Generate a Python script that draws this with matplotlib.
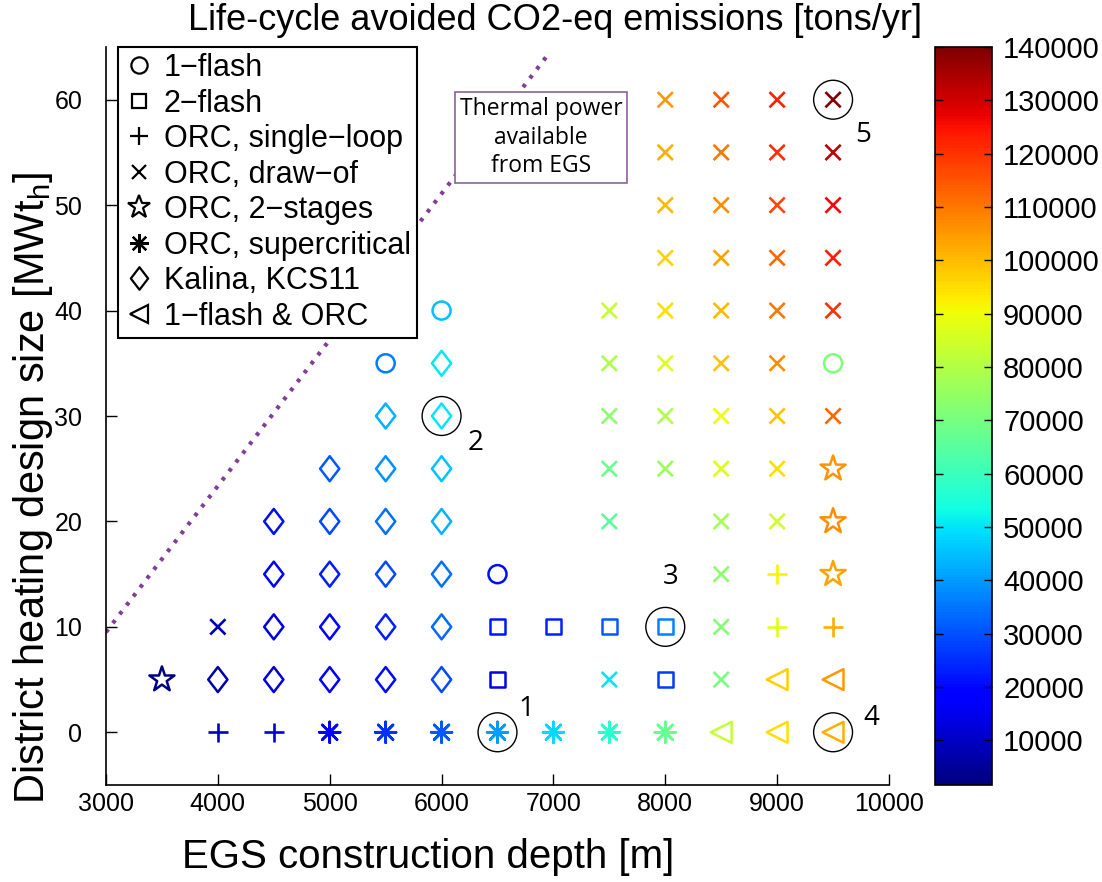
import numpy as np
import matplotlib
matplotlib.use('Agg')
import matplotlib.pyplot as plt
from matplotlib.path import Path
from matplotlib.lines import Line2D
from matplotlib.markers import MarkerStyle
from matplotlib.colors import Normalize
from matplotlib.cm import ScalarMappable

plt.rcParams['font.family'] = ['Liberation Sans', 'DejaVu Sans']
plt.rcParams['mathtext.fontset'] = 'custom'
plt.rcParams['mathtext.rm'] = 'Liberation Sans'

# --- data: depth [m], district heating size [MWth], avoided CO2 [tons/yr] ---
flash1_depth = [6500, 5500, 6000, 9500]
flash1_size = [15, 35, 40, 35]
flash1_co2 = [21000, 36000, 45000, 70800]

flash2_depth = [6500, 8000, 6500, 7000, 7500, 8000]
flash2_size = [5, 5, 10, 10, 10, 10]
flash2_co2 = [14500, 27000, 22000, 23500, 31000, 36200]

single_depth = [4000, 4500, 9000, 9500, 9000]
single_size = [0, 0, 10, 10, 15]
single_co2 = [10000, 12000, 88000, 102000, 91500]

drawof_depth = [4000, 7500, 8500, 8500, 8500,
                7500, 8500, 9000,
                7500, 8000, 8500, 9000,
                7500, 8000, 8500, 9000, 9500,
                7500, 8000, 8500, 9000,
                7500, 8000, 8500, 9000, 9500,
                8000, 8500, 9000, 9500,
                8000, 8500, 9000, 9500,
                8000, 8500, 9000, 9500,
                8000, 8500, 9000, 9500]
drawof_size = [10, 5, 5, 10, 15,
               20, 20, 20,
               25, 25, 25, 25,
               30, 30, 30, 30, 30,
               35, 35, 35, 35,
               40, 40, 40, 40, 40,
               45, 45, 45, 45,
               50, 50, 50, 50,
               55, 55, 55, 55,
               60, 60, 60, 60]
drawof_co2 = [9000, 50000, 70000, 72000, 74000,
              65000, 77700, 84600,
              68000, 76000, 86500, 95000,
              74000, 79500, 90000, 98500, 112000,
              79000, 88000, 98500, 107000,
              83000, 95000, 100000, 110000, 120000,
              96500, 103500, 112000, 123000,
              100000, 107000, 117000, 126000,
              102000, 110000, 121000, 132000,
              105000, 115000, 122700, 140000]

stage2_depth = [3500, 9500, 9500, 9500]
stage2_size = [5, 15, 20, 25]
stage2_co2 = [1600, 103700, 106800, 105400]

superc_depth = [5000, 5500, 6000, 6500, 7000, 7500, 8000]
superc_size = [0, 0, 0, 0, 0, 0, 0]
superc_co2 = [19000, 25800, 31000, 40000, 48600, 57000, 67300]

kalina_depth = [4000, 4500, 5000, 5500, 6000,
                4500, 5000, 5500, 6000,
                4500, 5000, 5500, 6000,
                4500, 5000, 5500, 6000,
                5000, 5500, 6000,
                5500, 6000,
                6000]
kalina_size = [5, 5, 5, 5, 5,
               10, 10, 10, 10,
               15, 15, 15, 15,
               20, 20, 20, 20,
               25, 25, 25,
               30, 30,
               35]
kalina_co2 = [7000, 12600, 17000, 20500, 29000,
              14000, 19000, 23000, 33000,
              18000, 23000, 29000, 34500,
              21000, 29000, 34500, 43000,
              31000, 38500, 45000,
              43000, 50000,
              50500]

hybrid_depth = [8500, 9000, 9500, 9000, 9500]
hybrid_size = [0, 0, 0, 5, 5]
hybrid_co2 = [83200, 95000, 102000, 97000, 105000]

# highlighted cases
hl_depth = [6500, 6000, 8000, 9500, 9500]
hl_size = [0, 30, 10, 0, 60]
hl_labels = ['1', '2', '3', '4', '5']
hl_label_depth = [6760, 6300, 8050, 9840, 9770]
hl_label_size = [2.2, 27.4, 14.7, 1.4, 56.7]

# thermal power limit line
thermal_depth = [3000, 6960]
thermal_size = [9.5, 64.4]

cbar_ticks = [10000, 20000, 30000, 40000, 50000, 60000, 70000,
              80000, 90000, 100000, 110000, 120000, 130000, 140000]

all_co2 = (flash1_co2 + flash2_co2 + single_co2 + drawof_co2 + stage2_co2
           + superc_co2 + kalina_co2 + hybrid_co2)
cmap = plt.get_cmap('jet')
norm = Normalize(vmin=min(all_co2), vmax=max(all_co2))

diamond = Path([(0, 1), (0.77, 0), (0, -1), (-0.77, 0), (0, 1)],
               [Path.MOVETO, Path.LINETO, Path.LINETO, Path.LINETO, Path.CLOSEPOLY])
asterisk = (8, 2, 0)

W, H = 1102, 882
fig = plt.figure(figsize=(W / 100, H / 100), dpi=100)
ax = fig.add_axes([106 / W, 1 - 785 / H, (889 - 106) / W, (785 - 47) / H])
cax = fig.add_axes([935 / W, 1 - 785 / H, 57 / W, (785 - 47) / H])

groups = [
    (flash1_depth, flash1_size, flash1_co2, 'o', 13, '1\u2212flash'),
    (flash2_depth, flash2_size, flash2_co2, 's', 11, '2\u2212flash'),
    (single_depth, single_size, single_co2, '+', 14, 'ORC, single\u2212loop'),
    (drawof_depth, drawof_size, drawof_co2, 'x', 11, 'ORC, draw\u2212of'),
    (stage2_depth, stage2_size, stage2_co2, '*', 19, 'ORC, 2\u2212stages'),
    (superc_depth, superc_size, superc_co2, asterisk, 15, 'ORC, supercritical'),
    (kalina_depth, kalina_size, kalina_co2, diamond, 18, 'Kalina, KCS11'),
    (hybrid_depth, hybrid_size, hybrid_co2, '<', 15, '1\u2212flash & ORC'),
]

handles = []
for dep, siz, val, mk, ms, lab in groups:
    cols = cmap(norm(np.array(val)))
    if MarkerStyle(mk).is_filled():
        ax.scatter(dep, siz, s=ms ** 2, marker=mk, facecolors='none',
                   edgecolors=cols, linewidths=1.8, zorder=3)
    else:
        ax.scatter(dep, siz, s=ms ** 2, marker=mk, c=cols, linewidths=1.9, zorder=3)
    handles.append(Line2D([], [], linestyle='none', marker=mk, markersize=ms * 0.9,
                          markerfacecolor='none', markeredgecolor='black',
                          markeredgewidth=1.6, label=lab))

# thermal power line and its label box
ax.plot(thermal_depth, thermal_size, linestyle=(0, (0.9, 1.8)), color='#7f3f98',
        linewidth=3.0, zorder=2)
ax.text(6889, 56.4, 'Thermal power\navailable\nfrom EGS', ha='center', va='center',
        fontsize=16.5, family=['Open Sans', 'DejaVu Sans'], linespacing=1.25, zorder=4,
        bbox=dict(boxstyle='square,pad=0.22', facecolor='white', edgecolor='#8c5fa0',
                  linewidth=1.2))

# highlighted cases
ax.scatter(hl_depth, hl_size, s=28 ** 2, marker='o', facecolors='none',
           edgecolors='black', linewidths=1.0, zorder=4)
for lx, ly, lt in zip(hl_label_depth, hl_label_size, hl_labels):
    ax.text(lx, ly, lt, ha='center', va='center', fontsize=20,
            family=['Open Sans', 'DejaVu Sans'])

ax.set_xlim(3000, 10000)
ax.set_ylim(-5, 65)
ax.set_xticks(np.arange(3000, 10001, 1000))
ax.set_yticks(np.arange(0, 61, 10))
ax.spines['top'].set_visible(False)
ax.spines['right'].set_visible(False)
for sp in ['left', 'bottom']:
    ax.spines[sp].set_linewidth(1.2)
ax.tick_params(direction='in', length=8, width=1, labelsize=18)
ax.tick_params(axis='x', pad=5)
ax.tick_params(axis='y', pad=17)

leg = ax.legend(handles=handles, loc='upper left', bbox_to_anchor=(12 / 783, 1.0),
                borderaxespad=0, frameon=True, fancybox=False, framealpha=1,
                edgecolor='black', borderpad=0.2, handlelength=1.0,
                handletextpad=0.3, labelspacing=0.18,
                prop={'family': ['Liberation Sans', 'DejaVu Sans'], 'size': 22})
leg.get_frame().set_linewidth(1.5)

sm = ScalarMappable(norm=norm, cmap=cmap)
cb = fig.colorbar(sm, cax=cax, ticks=cbar_ticks)
cb.outline.set_linewidth(1.2)
cax.tick_params(direction='in', length=6, width=1, left=True, right=True, pad=8)
for t in cax.get_yticklabels():
    t.set_fontsize(21)

fig.text(555 / W, 1 - 20 / H, 'Life-cycle avoided CO2-eq emissions [tons/yr]',
         ha='center', va='center', fontsize=26)
fig.text(428 / W, 1 - 857 / H, 'EGS construction depth [m]',
         ha='center', va='center', fontsize=29)
fig.text(33 / W, 1 - 488 / H, r'District heating design size [MWt$_{\rm h}$]',
         ha='center', va='center', rotation=90, fontsize=30)

fig.savefig('out.png', dpi=100)
